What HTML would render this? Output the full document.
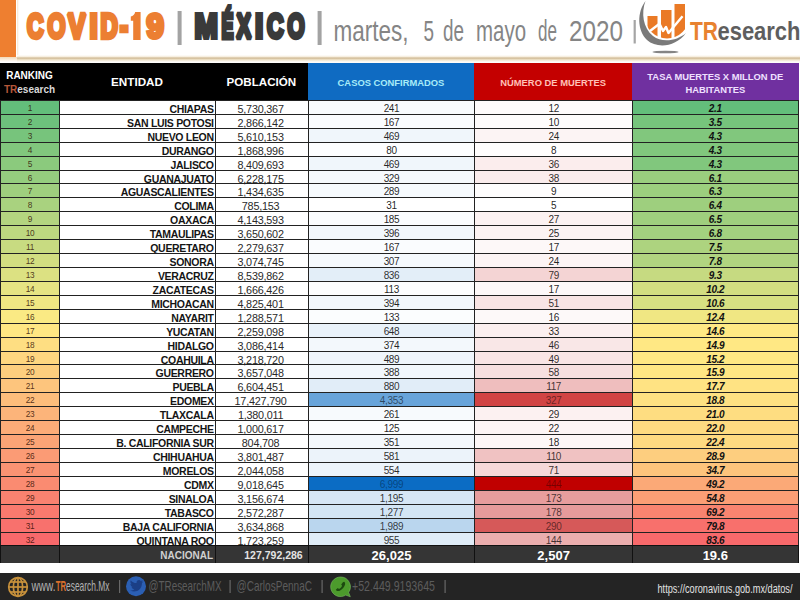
<!DOCTYPE html>
<html><head><meta charset="utf-8"><title>COVID-19 Mexico</title>
<style>
html,body{margin:0;padding:0}
body{width:800px;height:600px;position:relative;overflow:hidden;background:#fff;font-family:"Liberation Sans",sans-serif;}
.abs{position:absolute}
svg{position:absolute;left:0;top:0;overflow:visible}
.r{position:absolute;left:0;width:800px;height:13.922px}
.c{position:absolute;top:0;height:13.922px;line-height:16.522000000000002px;box-sizing:border-box;border-top:1px solid #222;border-left:1px solid #222;white-space:nowrap;color:#111;text-align:center;font-size:10px;letter-spacing:-0.35px}
.rk{left:0px;width:59px;font-size:8.3px;letter-spacing:-0.3px;color:rgba(45,10,0,.8);line-height:15.722000000000001px}
.en{left:59px;width:156px;text-align:right;font-weight:bold;font-size:10.5px;letter-spacing:-0.32px;padding-right:1.3px;color:#151515}
.po{left:215px;width:92.69999999999999px;font-size:10.8px;letter-spacing:-0.2px;color:#2a2a2a;padding-right:2.5px}
.ca{left:307.7px;width:166.60000000000002px}
.mu{left:474.3px;width:157.7px}
.ta{left:632px;width:166.60000000000002px;font-weight:bold;font-style:italic;border-right:1px solid #222}
.h{position:absolute;top:63.2px;height:37.3px;color:#fff;font-weight:bold;text-align:center;box-sizing:border-box}
.nat{position:absolute;top:545.4px;height:17.9px;background:#353535;box-sizing:border-box;border-left:1px solid #111;border-top:1px solid #111;color:#fff;font-weight:bold;text-align:center;line-height:19px;white-space:nowrap}
.ft{position:absolute;top:573px;left:0;width:800px;height:27px;background:#242424}
</style></head><body>
<!-- top banner -->
<div class="abs" style="left:0;top:0;width:16px;height:56.5px;background:#ee7f30"></div>
<div class="abs" style="left:16.5px;top:0;width:2.5px;height:56px;background:linear-gradient(to right,#f7e6cf,#fff)"></div>
<div class="abs" style="left:16.5px;top:54.5px;width:784px;height:8px;background:linear-gradient(to bottom,#fff 0,#f6eddc 22%,#cfb994 38%,#ecdfc4 58%,#fbf7ee 78%,#fff 100%)"></div>
<div class="abs" style="left:0;top:56.5px;width:17px;height:5px;background:linear-gradient(to bottom,#f3d9b8,#fff)"></div>
<svg width="800" height="62" viewBox="0 0 800 62">
 <g font-family="Liberation Sans, sans-serif" font-weight="bold">
  <g transform="translate(27.0,38) scale(0.6678,1)"><text x="0" y="0" font-size="34.3" fill="#ec7f32" stroke="#ec7f32" stroke-width="3.8" stroke-linejoin="miter" stroke-miterlimit="1.6" vector-effect="non-scaling-stroke">C</text></g><g transform="translate(47.4,38) scale(0.6716,1)"><text x="0" y="0" font-size="34.3" fill="#ec7f32" stroke="#ec7f32" stroke-width="3.8" stroke-linejoin="miter" stroke-miterlimit="1.6" vector-effect="non-scaling-stroke">O</text></g><g transform="translate(68.0,38) scale(0.766,1)"><text x="0" y="0" font-size="34.3" fill="#ec7f32" stroke="#ec7f32" stroke-width="3.8" stroke-linejoin="miter" stroke-miterlimit="1.6" vector-effect="non-scaling-stroke">V</text></g><g transform="translate(89.4,38) scale(0.8653,1)"><text x="0" y="0" font-size="34.3" fill="#ec7f32" stroke="#ec7f32" stroke-width="3.8" stroke-linejoin="miter" stroke-miterlimit="1.6" vector-effect="non-scaling-stroke">I</text></g><g transform="translate(100.4,38) scale(0.7,1)"><text x="0" y="0" font-size="34.3" fill="#ec7f32" stroke="#ec7f32" stroke-width="3.8" stroke-linejoin="miter" stroke-miterlimit="1.6" vector-effect="non-scaling-stroke">D</text></g><g transform="translate(120.0,38) scale(0.7064,1)"><text x="0" y="0" font-size="34.3" fill="#ec7f32" stroke="#ec7f32" stroke-width="3.8" stroke-linejoin="miter" stroke-miterlimit="1.6" vector-effect="non-scaling-stroke">-</text></g><path d="M140.6 12 L140.6 40 L133.2 40 L133.2 20.8 L130.8 20.8 L130.8 16.4 C133 16 134.6 14.6 135.2 12 Z" fill="#ec7f32"/><g transform="translate(146.4,38) scale(0.9106,1)"><text x="0" y="0" font-size="34.3" fill="#ec7f32" stroke="#ec7f32" stroke-width="3.8" stroke-linejoin="miter" stroke-miterlimit="1.6" vector-effect="non-scaling-stroke">9</text></g>
  <rect x="177.6" y="11" width="4" height="34" fill="#a3a3a3"/>
  <g transform="translate(194.4,38) scale(0.8167,1)"><text x="0" y="0" font-size="34.3" fill="#3a3a3a" stroke="#3a3a3a" stroke-width="3.8" stroke-linejoin="miter" stroke-miterlimit="1.6" vector-effect="non-scaling-stroke">M</text></g><g transform="translate(221.6,38) scale(0.5233,1)"><text x="0" y="0" font-size="34.3" fill="#3a3a3a" stroke="#3a3a3a" stroke-width="3.8" stroke-linejoin="miter" stroke-miterlimit="1.6" vector-effect="non-scaling-stroke">É</text></g><g transform="translate(236.6,38) scale(0.6395,1)"><text x="0" y="0" font-size="34.3" fill="#3a3a3a" stroke="#3a3a3a" stroke-width="3.8" stroke-linejoin="miter" stroke-miterlimit="1.6" vector-effect="non-scaling-stroke">X</text></g><g transform="translate(255.0,38) scale(0.8653,1)"><text x="0" y="0" font-size="34.3" fill="#3a3a3a" stroke="#3a3a3a" stroke-width="3.8" stroke-linejoin="miter" stroke-miterlimit="1.6" vector-effect="non-scaling-stroke">I</text></g><g transform="translate(267.0,38) scale(0.6678,1)"><text x="0" y="0" font-size="34.3" fill="#3a3a3a" stroke="#3a3a3a" stroke-width="3.8" stroke-linejoin="miter" stroke-miterlimit="1.6" vector-effect="non-scaling-stroke">C</text></g><g transform="translate(287.4,38) scale(0.6407,1)"><text x="0" y="0" font-size="34.3" fill="#3a3a3a" stroke="#3a3a3a" stroke-width="3.8" stroke-linejoin="miter" stroke-miterlimit="1.6" vector-effect="non-scaling-stroke">O</text></g>
  <rect x="317.6" y="11" width="4" height="34" fill="#a3a3a3"/>
 </g>
 <g font-family="Liberation Sans, sans-serif" font-size="30" fill="#858585">
  <text x="333.5" y="40.5" textLength="75" lengthAdjust="spacingAndGlyphs">martes,</text>
  <text x="423.5" y="40.5" textLength="10.5" lengthAdjust="spacingAndGlyphs">5</text>
  <text x="443" y="40.5" textLength="21" lengthAdjust="spacingAndGlyphs">de</text>
  <text x="476" y="40.5" textLength="50" lengthAdjust="spacingAndGlyphs">mayo</text>
  <text x="538" y="40.5" textLength="19" lengthAdjust="spacingAndGlyphs">de</text>
  <text x="569" y="40.5" textLength="54" lengthAdjust="spacingAndGlyphs">2020</text>
  <rect x="633.6" y="20" width="2.2" height="23.5" fill="#a5a5a5"/>
 </g>
 <!-- logo -->
 <defs><clipPath id="lc"><circle cx="667" cy="16.5" r="22"/></clipPath></defs>
 <g>
  <path d="M645.5 1 C637 12 637 30 647 40 C657 49 676 47 686 33 C677 41 662 43 653 36 C643 28 641 13 645.5 1 Z" fill="#7a7a7a"/>
  <ellipse cx="665.5" cy="52" rx="13" ry="1.3" fill="#666" opacity=".8"/>
  <g clip-path="url(#lc)" fill="#ea7a26">
   <rect x="647.5" y="16" width="10" height="30"/>
   <rect x="661" y="10" width="10.5" height="30"/>
   <rect x="674.5" y="4" width="10.5" height="36"/>
  </g>
  <path d="M650 31 L659.5 23.8 L663 31 L666 27 L668.5 33 L682.5 16.2" fill="none" stroke="#fff" stroke-width="2.4" stroke-linejoin="round"/>
 </g>
 <g font-family="Liberation Sans, sans-serif" font-weight="bold" font-size="26">
  <text x="690" y="40" fill="#e8822f" textLength="28" lengthAdjust="spacingAndGlyphs">TR</text>
  <text x="717.5" y="40" fill="#5e5e5e" textLength="83" lengthAdjust="spacingAndGlyphs">esearch</text>
 </g>
</svg>

<!-- header -->
<div class="h" style="left:0;width:307.7px;background:#000"></div>
<div class="h" style="left:0;width:59px;font-size:10px;line-height:14.5px;padding-top:5.4px">RANKING<br><span style="color:#b5573a">TR</span><span style="color:#d8d8d8">esearch</span></div>
<div class="h" style="left:59px;width:156px;font-size:11.7px;line-height:37.5px">ENTIDAD</div>
<div class="h" style="left:215px;width:92.69999999999999px;font-size:11.6px;line-height:37.5px">POBLACIÓN</div>
<div class="h" style="left:307.7px;width:166.60000000000002px;background:#0f6bc2;color:#a8ecf8;font-size:9.4px;line-height:40px">CASOS CONFIRMADOS</div>
<div class="h" style="left:474.3px;width:157.7px;background:#c40000;color:#ffc0b8;font-size:9.4px;line-height:40px">NÚMERO DE MUERTES</div>
<div class="h" style="left:632px;width:166.60000000000002px;background:#7030a0;color:#efe0ff;font-size:9.4px;line-height:13px;padding-top:7.3px">TASA MUERTES X MILLON DE<br>HABITANTES</div>

<!-- rows -->
<div class="r" style="top:99.95px"><div class="c rk" style="background:#63be7b">1</div><div class="c en">CHIAPAS</div><div class="c po">5,730,367</div><div class="c ca" style="background:#f8fbfd;color:rgba(0,0,0,0.86)">241</div><div class="c mu" style="background:#fefbfb;color:rgba(0,0,0,0.87)">12</div><div class="c ta" style="background:#63be7b">2.1</div></div>
<div class="r" style="top:113.87px"><div class="c rk" style="background:#6dc17c">2</div><div class="c en">SAN LUIS POTOSI</div><div class="c po">2,866,142</div><div class="c ca" style="background:#fafcfe;color:rgba(0,0,0,0.87)">167</div><div class="c mu" style="background:#fefcfc;color:rgba(0,0,0,0.87)">10</div><div class="c ta" style="background:#76c47c">3.5</div></div>
<div class="r" style="top:127.79px"><div class="c rk" style="background:#77c47c">3</div><div class="c en">NUEVO LEON</div><div class="c po">5,610,153</div><div class="c ca" style="background:#f0f6fb;color:rgba(0,0,0,0.85)">469</div><div class="c mu" style="background:#fcf4f4;color:rgba(0,0,0,0.86)">24</div><div class="c ta" style="background:#81c77d">4.3</div></div>
<div class="r" style="top:141.72px"><div class="c rk" style="background:#81c77d">4</div><div class="c en">DURANGO</div><div class="c po">1,868,996</div><div class="c ca" style="background:#fdfeff;color:rgba(0,0,0,0.88)">80</div><div class="c mu" style="background:#fffdfd;color:rgba(0,0,0,0.88)">8</div><div class="c ta" style="background:#81c77d">4.3</div></div>
<div class="r" style="top:155.64px"><div class="c rk" style="background:#8bca7d">5</div><div class="c en">JALISCO</div><div class="c po">8,409,693</div><div class="c ca" style="background:#f0f6fb;color:rgba(0,0,0,0.85)">469</div><div class="c mu" style="background:#fbeded;color:rgba(0,0,0,0.84)">36</div><div class="c ta" style="background:#81c77d">4.3</div></div>
<div class="r" style="top:169.56px"><div class="c rk" style="background:#95cd7e">6</div><div class="c en">GUANAJUATO</div><div class="c po">6,228,175</div><div class="c ca" style="background:#f5f9fc;color:rgba(0,0,0,0.86)">329</div><div class="c mu" style="background:#faecec;color:rgba(0,0,0,0.84)">38</div><div class="c ta" style="background:#9ace7e">6.1</div></div>
<div class="r" style="top:183.48px"><div class="c rk" style="background:#9fcf7e">7</div><div class="c en">AGUASCALIENTES</div><div class="c po">1,434,635</div><div class="c ca" style="background:#f6fafd;color:rgba(0,0,0,0.86)">289</div><div class="c mu" style="background:#fefdfd;color:rgba(0,0,0,0.88)">9</div><div class="c ta" style="background:#9ccf7e">6.3</div></div>
<div class="r" style="top:197.40px"><div class="c rk" style="background:#a9d27f">8</div><div class="c en">COLIMA</div><div class="c po">785,153</div><div class="c ca" style="background:#ffffff;color:rgba(0,0,0,0.88)">31</div><div class="c mu" style="background:#ffffff;color:rgba(0,0,0,0.88)">5</div><div class="c ta" style="background:#9ecf7e">6.4</div></div>
<div class="r" style="top:211.33px"><div class="c rk" style="background:#b4d580">9</div><div class="c en">OAXACA</div><div class="c po">4,143,593</div><div class="c ca" style="background:#fafcfe;color:rgba(0,0,0,0.87)">185</div><div class="c mu" style="background:#fcf2f2;color:rgba(0,0,0,0.85)">27</div><div class="c ta" style="background:#9fcf7e">6.5</div></div>
<div class="r" style="top:225.25px"><div class="c rk" style="background:#bed880">10</div><div class="c en">TAMAULIPAS</div><div class="c po">3,650,602</div><div class="c ca" style="background:#f2f7fc;color:rgba(0,0,0,0.85)">396</div><div class="c mu" style="background:#fcf3f3;color:rgba(0,0,0,0.86)">25</div><div class="c ta" style="background:#a3d17f">6.8</div></div>
<div class="r" style="top:239.17px"><div class="c rk" style="background:#c8db81">11</div><div class="c en">QUERETARO</div><div class="c po">2,279,637</div><div class="c ca" style="background:#fafcfe;color:rgba(0,0,0,0.87)">167</div><div class="c mu" style="background:#fdf8f8;color:rgba(0,0,0,0.87)">17</div><div class="c ta" style="background:#add37f">7.5</div></div>
<div class="r" style="top:253.09px"><div class="c rk" style="background:#d2de81">12</div><div class="c en">SONORA</div><div class="c po">3,074,745</div><div class="c ca" style="background:#f5f9fd;color:rgba(0,0,0,0.86)">307</div><div class="c mu" style="background:#fcf4f4;color:rgba(0,0,0,0.86)">24</div><div class="c ta" style="background:#b1d480">7.8</div></div>
<div class="r" style="top:267.01px"><div class="c rk" style="background:#dce182">13</div><div class="c en">VERACRUZ</div><div class="c po">8,539,862</div><div class="c ca" style="background:#e3eef8;color:rgba(0,0,0,0.82)">836</div><div class="c mu" style="background:#f4d4d4;color:rgba(0,0,0,0.80)">79</div><div class="c ta" style="background:#c6da81">9.3</div></div>
<div class="r" style="top:280.94px"><div class="c rk" style="background:#e6e483">14</div><div class="c en">ZACATECAS</div><div class="c po">1,666,426</div><div class="c ca" style="background:#fcfdfe;color:rgba(0,0,0,0.87)">113</div><div class="c mu" style="background:#fdf8f8;color:rgba(0,0,0,0.87)">17</div><div class="c ta" style="background:#d2de81">10.2</div></div>
<div class="r" style="top:294.86px"><div class="c rk" style="background:#f0e783">15</div><div class="c en">MICHOACAN</div><div class="c po">4,825,401</div><div class="c ca" style="background:#f2f7fc;color:rgba(0,0,0,0.85)">394</div><div class="c mu" style="background:#f8e4e4;color:rgba(0,0,0,0.83)">51</div><div class="c ta" style="background:#d7e082">10.6</div></div>
<div class="r" style="top:308.78px"><div class="c rk" style="background:#faea84">16</div><div class="c en">NAYARIT</div><div class="c po">1,288,571</div><div class="c ca" style="background:#fbfdfe;color:rgba(0,0,0,0.87)">133</div><div class="c mu" style="background:#fdf9f9;color:rgba(0,0,0,0.87)">16</div><div class="c ta" style="background:#f0e783">12.4</div></div>
<div class="r" style="top:322.70px"><div class="c rk" style="background:#ffe783">17</div><div class="c en">YUCATAN</div><div class="c po">2,259,098</div><div class="c ca" style="background:#e9f2fa;color:rgba(0,0,0,0.84)">648</div><div class="c mu" style="background:#fbefef;color:rgba(0,0,0,0.85)">33</div><div class="c ta" style="background:#ffe984">14.6</div></div>
<div class="r" style="top:336.62px"><div class="c rk" style="background:#fede82">18</div><div class="c en">HIDALGO</div><div class="c po">3,086,414</div><div class="c ca" style="background:#f3f8fc;color:rgba(0,0,0,0.86)">374</div><div class="c mu" style="background:#f9e7e7;color:rgba(0,0,0,0.83)">46</div><div class="c ta" style="background:#ffe884">14.9</div></div>
<div class="r" style="top:350.55px"><div class="c rk" style="background:#fed680">19</div><div class="c en">COAHUILA</div><div class="c po">3,218,720</div><div class="c ca" style="background:#eff5fb;color:rgba(0,0,0,0.85)">489</div><div class="c mu" style="background:#f9e5e5;color:rgba(0,0,0,0.83)">49</div><div class="c ta" style="background:#ffe883">15.2</div></div>
<div class="r" style="top:364.47px"><div class="c rk" style="background:#fdce7e">20</div><div class="c en">GUERRERO</div><div class="c po">3,657,048</div><div class="c ca" style="background:#f2f7fc;color:rgba(0,0,0,0.85)">388</div><div class="c mu" style="background:#f7e0e0;color:rgba(0,0,0,0.82)">58</div><div class="c ta" style="background:#ffe783">15.9</div></div>
<div class="r" style="top:378.39px"><div class="c rk" style="background:#fdc57d">21</div><div class="c en">PUEBLA</div><div class="c po">6,604,451</div><div class="c ca" style="background:#e1edf8;color:rgba(0,0,0,0.82)">880</div><div class="c mu" style="background:#efbebe;color:rgba(0,0,0,0.75)">117</div><div class="c ta" style="background:#ffe383">17.7</div></div>
<div class="r" style="top:392.31px"><div class="c rk" style="background:#fdbd7b">22</div><div class="c en">EDOMEX</div><div class="c po">17,427,790</div><div class="c ca" style="background:#68a4da;color:rgba(0,0,0,0.57)">4,353</div><div class="c mu" style="background:#d14444;color:rgba(0,0,0,0.51)">327</div><div class="c ta" style="background:#fee182">18.8</div></div>
<div class="r" style="top:406.23px"><div class="c rk" style="background:#fcb47a">23</div><div class="c en">TLAXCALA</div><div class="c po">1,380,011</div><div class="c ca" style="background:#f7fafd;color:rgba(0,0,0,0.86)">261</div><div class="c mu" style="background:#fcf1f1;color:rgba(0,0,0,0.85)">29</div><div class="c ta" style="background:#fedd81">21.0</div></div>
<div class="r" style="top:420.16px"><div class="c rk" style="background:#fcac78">24</div><div class="c en">CAMPECHE</div><div class="c po">1,000,617</div><div class="c ca" style="background:#fcfdfe;color:rgba(0,0,0,0.87)">125</div><div class="c mu" style="background:#fdf5f5;color:rgba(0,0,0,0.86)">22</div><div class="c ta" style="background:#fedb81">22.0</div></div>
<div class="r" style="top:434.08px"><div class="c rk" style="background:#fba476">25</div><div class="c en">B. CALIFORNIA SUR</div><div class="c po">804,708</div><div class="c ca" style="background:#f4f8fc;color:rgba(0,0,0,0.86)">351</div><div class="c mu" style="background:#fdf7f7;color:rgba(0,0,0,0.87)">18</div><div class="c ta" style="background:#feda81">22.4</div></div>
<div class="r" style="top:448.00px"><div class="c rk" style="background:#fb9b75">26</div><div class="c en">CHIHUAHUA</div><div class="c po">3,801,487</div><div class="c ca" style="background:#ecf3fa;color:rgba(0,0,0,0.84)">581</div><div class="c mu" style="background:#f0c2c2;color:rgba(0,0,0,0.76)">110</div><div class="c ta" style="background:#fdce7f">28.9</div></div>
<div class="r" style="top:461.92px"><div class="c rk" style="background:#fa9373">27</div><div class="c en">MORELOS</div><div class="c po">2,044,058</div><div class="c ca" style="background:#edf4fb;color:rgba(0,0,0,0.84)">554</div><div class="c mu" style="background:#f6d9d9;color:rgba(0,0,0,0.80)">71</div><div class="c ta" style="background:#fdc47c">34.7</div></div>
<div class="r" style="top:475.84px"><div class="c rk" style="background:#fa8b71">28</div><div class="c en">CDMX</div><div class="c po">9,018,645</div><div class="c ca" style="background:#0b6cc4;color:rgba(0,0,0,0.38)">6,999</div><div class="c mu" style="background:#c00000;color:rgba(0,0,0,0.38)">444</div><div class="c ta" style="background:#fba977">49.2</div></div>
<div class="r" style="top:489.77px"><div class="c rk" style="background:#f98270">29</div><div class="c en">SINALOA</div><div class="c po">3,156,674</div><div class="c ca" style="background:#d6e6f5;color:rgba(0,0,0,0.80)">1,195</div><div class="c mu" style="background:#e79d9d;color:rgba(0,0,0,0.69)">173</div><div class="c ta" style="background:#fb9e75">54.8</div></div>
<div class="r" style="top:503.69px"><div class="c rk" style="background:#f97a6e">30</div><div class="c en">TABASCO</div><div class="c po">2,572,287</div><div class="c ca" style="background:#d3e5f4;color:rgba(0,0,0,0.79)">1,277</div><div class="c mu" style="background:#e69b9b;color:rgba(0,0,0,0.68)">178</div><div class="c ta" style="background:#f98470">69.2</div></div>
<div class="r" style="top:517.61px"><div class="c rk" style="background:#f8716d">31</div><div class="c en">BAJA CALIFORNIA</div><div class="c po">3,634,868</div><div class="c ca" style="background:#bad6ee;color:rgba(0,0,0,0.74)">1,989</div><div class="c mu" style="background:#d65959;color:rgba(0,0,0,0.56)">290</div><div class="c ta" style="background:#f8706c">79.8</div></div>
<div class="r" style="top:531.53px"><div class="c rk" style="background:#f8696b">32</div><div class="c en">QUINTANA ROO</div><div class="c po">1,723,259</div><div class="c ca" style="background:#dfecf7;color:rgba(0,0,0,0.81)">955</div><div class="c mu" style="background:#ebaeae;color:rgba(0,0,0,0.72)">144</div><div class="c ta" style="background:#f8696b">83.6</div></div>

<!-- nacional -->
<div class="nat" style="left:0px;width:59px"></div>
<div class="nat" style="left:59px;width:156px;text-align:right;padding-right:2px;font-size:10px;color:#d0d0d0">NACIONAL</div>
<div class="nat" style="left:215px;width:92.69999999999999px;font-size:10.5px;color:#e4e4e4;text-align:right;padding-right:5px">127,792,286</div>
<div class="nat" style="left:307.7px;width:166.60000000000002px;font-size:13px">26,025</div>
<div class="nat" style="left:474.3px;width:157.7px;font-size:13px">2,507</div>
<div class="nat" style="left:632px;width:166.60000000000002px;font-size:13px;border-right:1px solid #111">19.6</div>

<!-- footer -->
<div class="ft"></div>
<svg width="800" height="600" viewBox="0 0 800 600">
 <!-- globe -->
 <g fill="none" stroke="#c8923c" stroke-width="1.7">
  <circle cx="18" cy="587" r="9.3"/>
  <ellipse cx="18" cy="587" rx="4.6" ry="9.3"/>
  <line x1="18" y1="577.7" x2="18" y2="596.3"/>
  <line x1="8.7" y1="587" x2="27.3" y2="587"/>
  <line x1="10.3" y1="582" x2="25.7" y2="582"/>
  <line x1="10.3" y1="592" x2="25.7" y2="592"/>
 </g>
 <g font-family="Liberation Sans, sans-serif" font-size="14.5">
  <text x="31.5" y="591" fill="#b2b2b2" textLength="24" lengthAdjust="spacingAndGlyphs">www.</text>
  <text x="55.7" y="591" fill="#d9702c" font-weight="bold" textLength="10.3" lengthAdjust="spacingAndGlyphs">TR</text>
  <text x="66" y="591" fill="#b2b2b2" textLength="43.5" lengthAdjust="spacingAndGlyphs">esearch.Mx</text>
 </g>
 <rect x="119" y="580" width="1.2" height="13" fill="#686868"/>
 <circle cx="136" cy="586.3" r="10" fill="#2b5fb3"/>
 <path d="M130 590.5 c6 3 12 -1 12 -7.5 l1.4 -1.6 l-1.8 .4 l1.2 -1.7 l-1.9 .8 c-1.8 -1.8 -4.8 -.4 -4.3 2.2 c-2.6 0 -4.5 -1.3 -5.8 -2.9 c-.9 1.6 -.2 3.3 1 4.1 l-1.4 -.3 c0 1.6 1.2 2.8 2.5 3.1 l-1.3 .1 c.5 1.2 1.5 2 2.9 2 c-1.3 1 -2.8 1.4 -4.5 1.3z" fill="#1b3f86"/>
 <g font-family="Liberation Sans, sans-serif" font-size="15" fill="#5c5c5c">
  <text x="148.5" y="591" textLength="73" lengthAdjust="spacingAndGlyphs">@TResearchMX</text>
  <text x="236.5" y="591" textLength="75.5" lengthAdjust="spacingAndGlyphs">@CarlosPennaC</text>
  <text x="352" y="591" textLength="83" lengthAdjust="spacingAndGlyphs">+52.449.9193645</text>
 </g>
 <rect x="229.5" y="580" width="1.2" height="13" fill="#686868"/>
 <rect x="321.5" y="580" width="1.2" height="13" fill="#686868"/>
 <rect x="444.5" y="580" width="1.2" height="13" fill="#686868"/>
 <!-- whatsapp -->
 <g transform="translate(681.5,0.5) scale(-1,1)">
 <path d="M341 576.5 a9.8 9.8 0 1 1 -5.2 18.1 l-4.6 1.6 l1.7 -4.3 a9.8 9.8 0 0 1 8.1 -15.4z" fill="#4c9b2c" stroke="#79bd62" stroke-width=".6"/>
 <path d="M337.3 581.2 c-1.6 .9 -1.2 3.7 1 6.2 c2.3 2.6 5.2 4 6.8 2.6 l.6 -.8 l-2 -1.6 l-1.2 .8 c-1 -.3 -2.7 -2 -3.1 -3.2 l.9 -1.1 l-1.7 -2.4z" fill="#1d4a10"/>
 </g>
 <text x="657.5" y="593" font-family="Liberation Sans, sans-serif" font-size="12.5" fill="#e2e2e2" textLength="135" lengthAdjust="spacingAndGlyphs">https://coronavirus.gob.mx/datos/</text>
</svg>
</body></html>
